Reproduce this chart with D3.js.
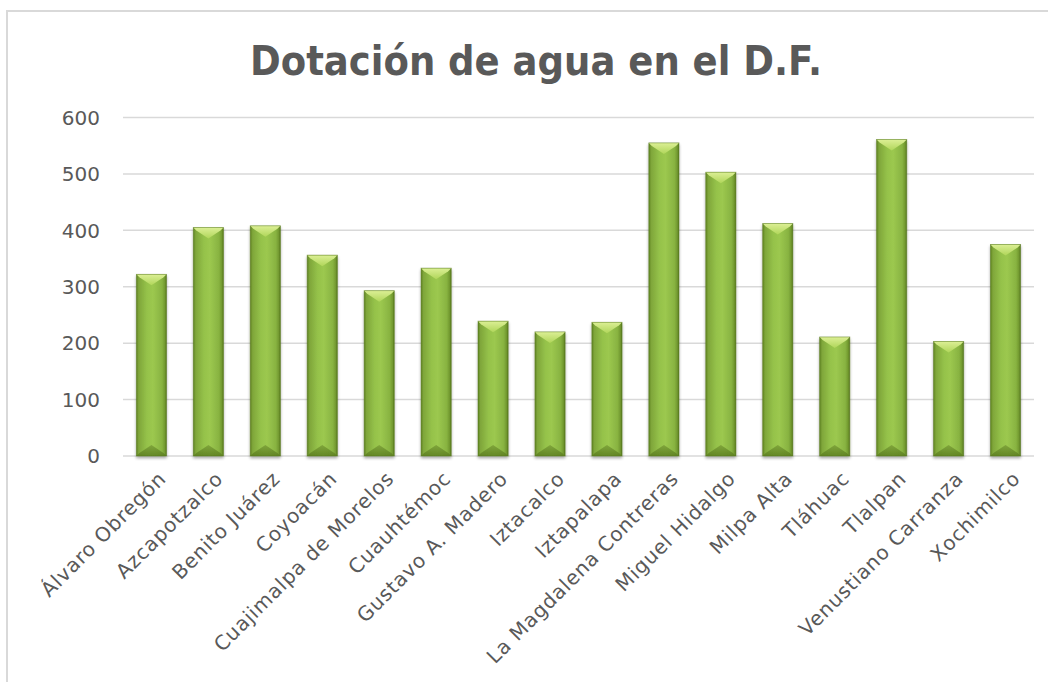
<!DOCTYPE html>
<html><head><meta charset="utf-8">
<script src="https://cdn.jsdelivr.net/npm/d3@7"></script>
<style>
html,body{margin:0;padding:0;background:#fff;}
svg{display:block;}
</style></head>
<body>
<svg id="c" width="1048" height="682"></svg>
<script>
const categories = ["Álvaro Obregón","Azcapotzalco","Benito Juárez","Coyoacán","Cuajimalpa de Morelos","Cuauhtémoc","Gustavo A. Madero","Iztacalco","Iztapalapa","La Magdalena Contreras","Miguel Hidalgo","Milpa Alta","Tláhuac","Tlalpan","Venustiano Carranza","Xochimilco"];
const values = [322, 405, 408, 356, 293, 333, 239, 220, 237, 555, 503, 412, 211, 561, 203, 375];
const yTicks = [0, 100, 200, 300, 400, 500, 600];
const title = "Dotación de agua en el D.F.";

const svg = d3.select("#c");
const FONT = "'DejaVu Sans', 'Liberation Sans', sans-serif";
const grey = "#595959";

// outer border
svg.append("rect").attr("x", 7).attr("y", 11).attr("width", 1060).attr("height", 700)
  .attr("fill", "#fff").attr("stroke", "#d9d9d9").attr("stroke-width", 2);

const x = d3.scaleBand().domain(categories).range([123, 1034]).paddingInner(0.47).paddingOuter(0.235);
const y = d3.scaleLinear().domain([0, 600]).range([456, 117.5]);

// gradients
const defs = svg.append("defs");
const g1 = defs.append("linearGradient").attr("id", "body").attr("x1", 0).attr("x2", 1).attr("y1", 0).attr("y2", 0);
[[0,"#5e8221"],[0.08,"#7fa63a"],[0.35,"#95c24a"],[0.55,"#9cc84f"],[0.85,"#88b341"],[0.94,"#739a30"],[1,"#55761d"]]
  .forEach(([o,c]) => g1.append("stop").attr("offset", o).attr("stop-color", c));
const g2 = defs.append("linearGradient").attr("id", "top").attr("x1", 0).attr("x2", 0).attr("y1", 0).attr("y2", 1);
[[0,"#dcef95"],[1,"#b0d65a"]].forEach(([o,c]) => g2.append("stop").attr("offset", o).attr("stop-color", c));
const g3 = defs.append("linearGradient").attr("id", "bot").attr("x1", 0).attr("x2", 0).attr("y1", 0).attr("y2", 1);
[[0,"#7a9f37"],[1,"#5b7d20"]].forEach(([o,c]) => g3.append("stop").attr("offset", o).attr("stop-color", c));
const flt = defs.append("filter").attr("id", "sh").attr("x", "-30%").attr("y", "-10%").attr("width", "160%").attr("height", "130%");
flt.append("feGaussianBlur").attr("in", "SourceAlpha").attr("stdDeviation", 1.5).attr("result", "b");
flt.append("feOffset").attr("in", "b").attr("dx", 0).attr("dy", 1.5).attr("result", "o");
flt.append("feComponentTransfer").attr("in", "o").attr("result", "o2")
  .append("feFuncA").attr("type", "linear").attr("slope", 0.35);
const fm = flt.append("feMerge");
fm.append("feMergeNode").attr("in", "o2");
fm.append("feMergeNode").attr("in", "SourceGraphic");

// gridlines
svg.append("g").selectAll("line").data(yTicks).join("line")
  .attr("x1", 123).attr("x2", 1034)
  .attr("y1", d => y(d)).attr("y2", d => y(d))
  .attr("stroke", "#d9d9d9").attr("stroke-width", 1.5);

// y labels
svg.append("g").selectAll("text").data(yTicks).join("text")
  .attr("x", 100).attr("y", d => y(d)).attr("dy", "0.36em")
  .attr("text-anchor", "end").attr("fill", grey)
  .style("font-family", FONT).style("font-size", "20px")
  .text(d => d);

// bars
const bw = x.bandwidth();
const bars = svg.append("g").selectAll("g").data(categories).join("g")
  .attr("filter", "url(#sh)");
bars.append("rect")
  .attr("x", d => x(d)).attr("width", bw)
  .attr("y", (d, i) => y(values[i])).attr("height", (d, i) => y(0) - y(values[i]))
  .attr("fill", "url(#body)");
const bev = 11;
bars.append("path")
  .attr("d", (d, i) => {
    const x0 = x(d), x1 = x(d) + bw, t = y(values[i]), m = x0 + bw / 2;
    return `M${x0},${t}L${x1},${t}L${x1 - 3},${t + 3}L${m},${t + bev}L${x0 + 3},${t + 3}Z`;
  })
  .attr("fill", "url(#top)");
bars.append("path")
  .attr("d", (d, i) => {
    const x0 = x(d), x1 = x(d) + bw, b = y(0), m = x0 + bw / 2;
    return `M${x0},${b}L${x1},${b}L${x1 - 3},${b - 3}L${m},${b - bev}L${x0 + 3},${b - 3}Z`;
  })
  .attr("fill", "url(#bot)").attr("opacity", 0.85);
bars.append("rect")
  .attr("x", d => x(d)).attr("width", bw)
  .attr("y", (d, i) => y(values[i])).attr("height", (d, i) => y(0) - y(values[i]))
  .attr("fill", "none").attr("stroke", "#5a7c20").attr("stroke-width", 0.8).attr("stroke-opacity", 0.6);

// x labels
svg.append("g").selectAll("text").data(categories).join("text")
  .attr("transform", d => `translate(${x(d) + bw / 2 + 6},${470}) rotate(-45)`)
  .attr("text-anchor", "end").attr("dy", "0.7em")
  .attr("fill", grey).style("font-family", FONT).style("font-size", "20px")
  .style("letter-spacing", "0.8px")
  .text(d => d);

// title
const t = svg.append("text").attr("x", 536).attr("y", 75).attr("text-anchor", "middle")
  .attr("fill", grey).style("font-family", FONT).style("font-size", "40px").style("font-weight", "bold")
  .text(title);
const L = t.node().getComputedTextLength();
if (L > 572) t.attr("textLength", 572).attr("lengthAdjust", "spacingAndGlyphs");
</script>
</body></html>
